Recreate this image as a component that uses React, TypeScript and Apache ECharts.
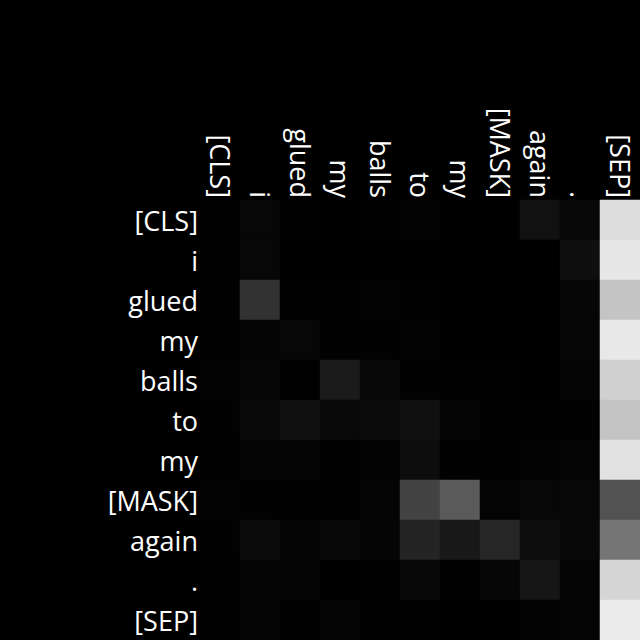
import * as echarts from 'echarts';
import { useEffect, useRef } from 'react';

const tokens = ['[CLS]', 'i', 'glued', 'my', 'balls', 'to', 'my', '[MASK]', 'again', '.', '[SEP]'];

// attention weights, one row per query token
const rowCLS = [0.004, 0.027, 0.004, 0, 0.008, 0.012, 0, 0, 0.067, 0.027, 0.867];
const rowI = [0.008, 0.027, 0, 0, 0, 0, 0, 0, 0, 0.059, 0.906];
const rowGlued = [0.008, 0.196, 0.008, 0.004, 0.012, 0.004, 0, 0, 0, 0.024, 0.769];
const rowMy1 = [0.008, 0.02, 0.027, 0.008, 0.008, 0.012, 0, 0, 0, 0.024, 0.91];
const rowBalls = [0.012, 0.024, 0.004, 0.106, 0.031, 0.008, 0.004, 0.004, 0, 0.016, 0.816];
const rowTo = [0.008, 0.035, 0.063, 0.035, 0.043, 0.063, 0.016, 0.004, 0.008, 0.008, 0.769];
const rowMy2 = [0.008, 0.016, 0.016, 0.004, 0.012, 0.051, 0.008, 0.004, 0.012, 0.016, 0.886];
const rowMask = [0.012, 0.008, 0.008, 0.004, 0.016, 0.263, 0.353, 0.016, 0.027, 0.027, 0.322];
const rowAgain = [0.008, 0.043, 0.02, 0.031, 0.02, 0.141, 0.094, 0.149, 0.047, 0.031, 0.459];
const rowDot = [0.004, 0.02, 0.02, 0, 0.004, 0.031, 0.004, 0.024, 0.086, 0.016, 0.835];
const rowSEP = [0.004, 0.02, 0.004, 0.016, 0.004, 0.004, 0, 0, 0.012, 0.016, 0.922];

const attention = [rowCLS, rowI, rowGlued, rowMy1, rowBalls, rowTo, rowMy2, rowMask, rowAgain, rowDot, rowSEP];

const App: React.FC = () => {
  const chartRef = useRef<HTMLDivElement>(null);

  useEffect(() => {
    if (!chartRef.current) return;
    document.body.style.margin = '0';
    document.body.style.background = '#000';

    const chart = echarts.init(chartRef.current, undefined, { renderer: 'svg' });

    const cells: number[][] = [];
    attention.forEach((row, y) => {
      row.forEach((v, x) => cells.push([x, y, v]));
    });

    const labelStyle = {
      color: '#ffffff',
      fontFamily: 'Open Sans',
      fontSize: 27,
    };

    chart.setOption({
      animation: false,
      backgroundColor: '#000000',
      grid: { left: 200, top: 200, right: 0, bottom: 0 },
      xAxis: {
        type: 'category',
        position: 'top',
        data: tokens,
        axisLine: { show: false },
        axisTick: { show: false },
        splitLine: { show: false },
        axisLabel: { ...labelStyle, rotate: 90, margin: 2, interval: 0 },
      },
      yAxis: {
        type: 'category',
        inverse: true,
        data: tokens,
        axisLine: { show: false },
        axisTick: { show: false },
        splitLine: { show: false },
        axisLabel: { ...labelStyle, margin: 2, interval: 0 },
      },
      visualMap: {
        show: false,
        min: 0,
        max: 1,
        dimension: 2,
        inRange: { color: ['#000000', '#ffffff'] },
      },
      series: [
        {
          type: 'heatmap',
          data: cells,
          emphasis: { disabled: true },
          itemStyle: { borderWidth: 0 },
        },
      ],
    });

    return () => {
      if (!chart.isDisposed()) chart.dispose();
    };
  }, []);

  return (
    <div
      ref={chartRef}
      style={{ position: 'absolute', left: 0, top: 0, width: '640px', height: '640px' }}
    />
  );
};

export default App;
